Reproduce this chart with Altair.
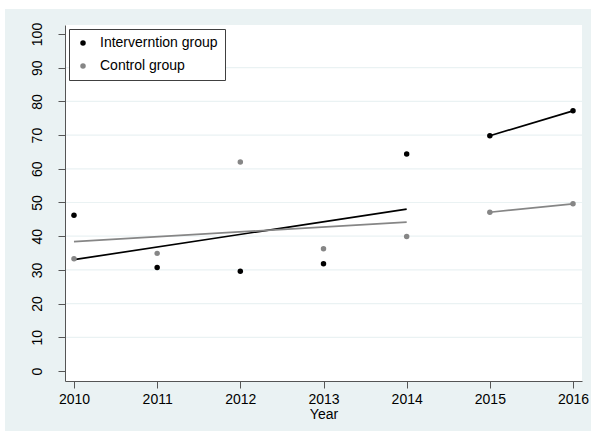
import altair as alt
import pandas as pd

# Observed yearly values per group
years = [2010, 2011, 2012, 2013, 2014, 2015, 2016]
intervention = [46.2, 30.7, 29.6, 31.8, 64.4, 69.8, 77.2]
control = [33.3, 34.9, 62.0, 36.3, 39.9, 47.1, 49.6]
groups = ["Interverntion group", "Control group"]
group_colors = ["#000000", "#868686"]
y_ticks = [0, 10, 20, 30, 40, 50, 60, 70, 80, 90, 100]
grid_values = [10, 20, 30, 40, 50, 60, 70, 80, 90]

rows = []
for name, vals in zip(groups, [intervention, control]):
    for yr, v in zip(years, vals):
        rows.append({"year": yr, "value": v, "group": name})
df = pd.DataFrame(rows)

W, H = 517, 356
FONT = "Liberation Sans"

x_scale = alt.Scale(domain=[2009.892, 2016.108], nice=False, zero=False)
y_scale = alt.Scale(domain=[-2.97, 102.67], nice=False, zero=False)
color_scale = alt.Scale(domain=groups, range=group_colors)

x_axis = alt.Axis(
    values=years,
    format="d",
    title="Year",
    labelPadding=4,
    titlePadding=1,
    labelOverlap=False,
    zindex=2,
)
y_axis = alt.Axis(
    values=y_ticks,
    title=None,
    labelAngle=270,
    labelAlign="center",
    labelBaseline="bottom",
    labelPadding=14,
    labelOverlap=False,
    zindex=2,
)

base = alt.Chart(df)

# Light frame around the graph region and white plot area
frame = alt.Chart(pd.DataFrame({"k": [0]})).mark_rect(color="#EAF2F3").encode(
    x=alt.value(-60), x2=alt.value(W + 9), y=alt.value(-16), y2=alt.value(H + 50)
)
plot_bg = alt.Chart(pd.DataFrame({"k": [0]})).mark_rect(color="white").encode(
    x=alt.value(0), x2=alt.value(W), y=alt.value(0), y2=alt.value(H)
)

grid = alt.Chart(pd.DataFrame({"g": grid_values})).mark_rule(
    color="#EAF2F3", strokeWidth=1.2
).encode(y=alt.Y("g:Q", scale=y_scale, axis=y_axis))

color_enc = alt.Color(
    "group:N",
    scale=color_scale,
    sort=groups,
    legend=alt.Legend(
        title=None,
        orient="none",
        legendX=4,
        legendY=4,
        symbolType="circle",
        symbolSize=30,
        symbolStrokeWidth=0,
        padding=7,
        rowPadding=9,
        labelOffset=10,
        fillColor="white",
        strokeColor="#404040",
        labelFontSize=14,
        labelFont=FONT,
        labelColor="black",
        zindex=3,
    ),
)

points = base.mark_point(filled=True, size=30, opacity=1).encode(
    x=alt.X("year:Q", scale=x_scale, axis=x_axis),
    y=alt.Y("value:Q", scale=y_scale, axis=y_axis),
    color=color_enc,
)

# Linear fit over 2010-2014
fit = (
    base.transform_filter(alt.datum.year <= 2014)
    .transform_regression("year", "value", groupby=["group"], extent=[2010, 2014])
    .mark_line(strokeWidth=1.7)
    .encode(
        x=alt.X("year:Q", scale=x_scale, axis=x_axis),
        y=alt.Y("value:Q", scale=y_scale, axis=y_axis),
        color=color_enc,
    )
)

# Connecting segment 2015-2016
seg = (
    base.transform_filter(alt.datum.year >= 2015)
    .mark_line(strokeWidth=1.7)
    .encode(
        x=alt.X("year:Q", scale=x_scale, axis=x_axis),
        y=alt.Y("value:Q", scale=y_scale, axis=y_axis),
        color=color_enc,
    )
)

chart = (
    alt.layer(frame, plot_bg, grid, fit, seg, points)
    .properties(
        width=W,
        height=H,
        padding={"left": 65, "top": 25, "right": 9, "bottom": 50},
        autosize=alt.AutoSizeParams(type="none"),
        background="white",
    )
    .configure_view(stroke=None, fill="white")
    .configure_axis(
        domainColor="#555555",
        tickColor="#555555",
        tickSize=7,
        grid=False,
        labelFont=FONT,
        labelFontSize=14,
        labelColor="black",
        titleFont=FONT,
        titleFontSize=14,
        titleFontWeight="normal",
        titleColor="black",
    )
)

chart.save("out.html", embed_options={"renderer": "svg", "actions": False})
